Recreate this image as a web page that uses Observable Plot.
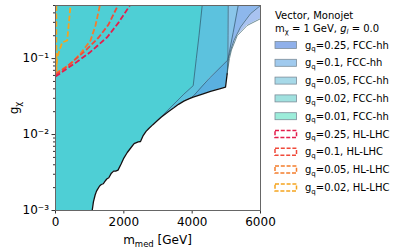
<!DOCTYPE html>
<html><head><meta charset="utf-8">
<script src="https://cdn.jsdelivr.net/npm/d3@7"></script>
<script src="https://cdn.jsdelivr.net/npm/@observablehq/plot@0.6"></script>
<style>
html,body{margin:0;padding:0;background:#fff;}
#chart{position:relative;width:407px;height:250px;overflow:hidden;}
svg{font-family:"DejaVu Sans",sans-serif;}
</style></head><body><div id="chart"></div>
<script>
// ---- axis ticks ----
const xTicks = [0, 2000, 4000, 6000];
const yTicks = [0.001, 0.01, 0.1];
const yTickLabels = ["10⁻³", "10⁻²", "10⁻¹"];

// ---- common lower exclusion edge (m_med [GeV], g_chi) ----
const lowerX = [1074,1110,1160,1200,1244,1290,1340,1400,1440,1500,1560,1635,1700,1760,1830,1920,2000,2100,2195,2300,2420,2488,2560,2650,2731,2850,2976,3100,3300,3463,3600,3756,3900,4030,4300,4537,4800,4976];
const lowerY = [0.001,0.0013,0.0016,0.0018,0.00194,0.0021,0.0022,0.00225,0.0024,0.0026,0.0027,0.0031,0.0033,0.0033,0.0034,0.0041,0.0049,0.0058,0.0066,0.0076,0.0080,0.0081,0.0096,0.0110,0.0120,0.0135,0.0152,0.0170,0.0200,0.0225,0.0250,0.0275,0.0295,0.031,0.034,0.037,0.040,0.042];

// ---- FCC-hh contours: where each leaves the lower edge, then its own upper part ----
const fcc001Leave = 2976;
const fcc001X = [3756,4030,4121,4200,4293];
const fcc001Y = [0.034,0.044,0.1,0.2,0.5];
const fcc002Leave = 3900;
const fcc002X = [4030,4500,5045,5050,5055];
const fcc002Y = [0.032,0.055,0.096,0.2,0.5];
const fcc005Leave = 4976;
const fcc005X = [5024,5050,5200,5347];
const fcc005Y = [0.063,0.1,0.22,0.5];
const fcc01Leave = 4976;
const fcc01X = [5024,5060,5130,5220,5415,5707,6000];
const fcc01Y = [0.063,0.1,0.13,0.173,0.26,0.39,0.5];
const fcc025Leave = 4976;
const fcc025X = [5024,5090,5150,5317,5610,6000,6000];
const fcc025Y = [0.063,0.1,0.13,0.2,0.273,0.335,0.5];

// darker wedge between the gq=0.02 edge and the lower edge
const wedgeX  = [4030,4300,4537,4800,4976,5024,5045];
const wedgeY1 = [0.031,0.034,0.037,0.040,0.042,0.063,0.096];
const wedgeY2 = [0.032,0.0436,0.055,0.074,0.089,0.094,0.096];

// ---- HL-LHC contours ----
const hl025X = [0,300,620,1000,1512,1850,2175];
const hl025Y = [0.058,0.072,0.09,0.12,0.191,0.3,0.5];
const hl01X = [0,280,560,900,1268,1550,1824];
const hl01Y = [0.061,0.075,0.096,0.13,0.191,0.28,0.5];
const hl005X = [0,146,440,732,1024,1171,1298];
const hl005Y = [0.064,0.070,0.0847,0.116,0.173,0.273,0.5];
const hl002X = [25,25,50,196,342,440];
const hl002Y = [0.5,0.07,0.104,0.163,0.173,0.5];

// ---- legend ----
const legendTitle1 = "Vector, Monojet";
const fccLabels = ["0.25","0.1","0.05","0.02","0.01"];
const hlLabels = ["0.25","0.1","0.05","0.02"];

// ---- styles ----
const fccFill = {"0.25":"#a9c3f1","0.1":"#8db7ec","0.05":"#8ac6ea","0.02":"#5cc2de","0.01":"#4ecfd5"};
const wedgeFill = "#5ab0e0";
const fccSwatch = {"0.25":"#8fb0ea","0.1":"#a0caee","0.05":"#a7d9e8","0.02":"#a0e1df","0.01":"#9cedda"};
const hlColor = {"0.25":"#e41d4c","0.1":"#f04a3a","0.05":"#f47d2c","0.02":"#f5a41e"};

const pts = (xs, ys) => xs.map((x, i) => ({x, y: ys[i]}));
function contour(leave, tx, ty) {
  const base = pts(lowerX, lowerY).filter(p => p.x <= leave);
  return base.concat(pts(tx, ty));
}
const c001 = contour(fcc001Leave, fcc001X, fcc001Y);
const c002 = contour(fcc002Leave, fcc002X, fcc002Y);
const c005 = contour(fcc005Leave, fcc005X, fcc005Y);
const c01  = contour(fcc01Leave, fcc01X, fcc01Y);
const c025 = contour(fcc025Leave, fcc025X, fcc025Y);
const wedge = wedgeX.map((x, i) => ({x, y1: wedgeY1[i], y2: wedgeY2[i]}));
const lowerLine = pts(lowerX, lowerY).concat([{x: fcc025X[0], y: fcc025Y[0]}]);

const minor = [];
for (const d of [0.001, 0.01, 0.1]) for (let k = 2; k <= 9; k++) { const v = d * k; if (v <= 0.5) minor.push(v); }

const edge = {stroke: "#2a5664", strokeWidth: 0.8, strokeOpacity: 0.85, curve: "linear", clip: true};
const dash = (xs, ys, c) => Plot.line(pts(xs, ys), {x: "x", y: "y", stroke: c, strokeWidth: 1.8, strokeDasharray: "5.5,2.4", strokeLinecap: "butt", clip: true});

const svgEl = Plot.plot({
  width: 407, height: 250,
  marginLeft: 55, marginRight: 147, marginTop: 5, marginBottom: 40,
  style: {fontFamily: "DejaVu Sans", fontSize: "12px", color: "#000", background: "#fff", overflow: "visible"},
  x: {domain: [0, 6000]},
  y: {type: "log", domain: [0.001, 0.5]},
  marks: [
    Plot.areaX(c025, {x1: 0, x2: "x", y: "y", fill: fccFill["0.25"], clip: true}),
    Plot.areaX(c01,  {x1: 0, x2: "x", y: "y", fill: fccFill["0.1"], clip: true}),
    Plot.areaX(c005, {x1: 0, x2: "x", y: "y", fill: fccFill["0.05"], clip: true}),
    Plot.areaY(wedge, {x: "x", y1: "y1", y2: "y2", fill: wedgeFill, clip: true}),
    Plot.areaX(c002, {x1: 0, x2: "x", y: "y", fill: fccFill["0.02"], clip: true}),
    Plot.areaX(c001, {x1: 0, x2: "x", y: "y", fill: fccFill["0.01"], clip: true}),
    Plot.line(c001.filter(p => p.x >= fcc001Leave), {x: "x", y: "y", ...edge}),
    Plot.line(c002.filter(p => p.x >= fcc002Leave), {x: "x", y: "y", ...edge}),
    Plot.line(pts(fcc005X, fcc005Y), {x: "x", y: "y", ...edge}),
    Plot.line(pts(fcc01X, fcc01Y), {x: "x", y: "y", ...edge}),
    Plot.line(pts(fcc025X, fcc025Y), {x: "x", y: "y", ...edge}),
    Plot.line(lowerLine, {x: "x", y: "y", stroke: "#111", strokeWidth: 1.3, clip: true}),
    dash(hl002X, hl002Y, hlColor["0.02"]),
    dash(hl005X, hl005Y, hlColor["0.05"]),
    dash(hl01X, hl01Y, hlColor["0.1"]),
    dash(hl025X, hl025Y, hlColor["0.25"]),
    Plot.axisX(xTicks, {tickSize: 3.5, tickPadding: 3, label: null, tickFormat: d => String(d), stroke: "#333"}),
    Plot.axisY(yTicks, {tickSize: 3.5, tickPadding: 3, label: null, tickFormat: d => yTickLabels[yTicks.indexOf(d)], stroke: "#333"}),
    Plot.axisY(minor, {tickSize: 2, label: null, tickFormat: () => "", stroke: "#333"}),
    Plot.frame({stroke: "#666", strokeWidth: 1})
  ]
});
document.getElementById("chart").appendChild(svgEl);

const svg = d3.select(svgEl);
// axis labels with subscripts
const xl = svg.append("text").attr("x", 157.5).attr("y", 244).attr("text-anchor", "middle").attr("font-size", 12).attr("fill", "#000");
xl.append("tspan").text("m");
xl.append("tspan").attr("font-size", 8.5).attr("dy", 3).text("med");
xl.append("tspan").attr("dy", -3).text(" [GeV]");
const yl = svg.append("text").attr("transform", "translate(18,108) rotate(-90)").attr("text-anchor", "middle").attr("font-size", 12).attr("fill", "#000");
yl.append("tspan").text("g");
yl.append("tspan").attr("font-size", 8.5).attr("dy", 3).text("χ");

// legend
const lg = svg.append("g").attr("font-size", 10).attr("fill", "#000").attr("text-anchor", "start");
lg.append("text").attr("x", 275).attr("y", 18.5).attr("text-anchor", "start").text(legendTitle1);
const t2 = lg.append("text").attr("x", 275).attr("y", 31.5).attr("text-anchor", "start");
t2.append("tspan").text("m");
t2.append("tspan").attr("font-size", 7).attr("dy", 2.5).text("χ");
t2.append("tspan").attr("dy", -2.5).text(" = 1 GeV, ");
t2.append("tspan").attr("font-style", "italic").text("g");
t2.append("tspan").attr("font-style", "italic").attr("font-size", 7).attr("dy", 2.5).text("l");
t2.append("tspan").attr("dy", -2.5).text(" = 0.0");
const rowY0 = 45, rowStep = 17.8;
function entryText(y, val, tag) {
  const t = lg.append("text").attr("x", 305).attr("y", y + 3.6).attr("text-anchor", "start");
  t.append("tspan").text("g");
  t.append("tspan").attr("font-size", 7).attr("dy", 2.5).text("q");
  t.append("tspan").attr("dy", -2.5).text("=" + val + ", " + tag);
}
fccLabels.forEach((v, i) => {
  const y = rowY0 + i * rowStep;
  lg.append("rect").attr("x", 275).attr("y", y - 3.5).attr("width", 21.5).attr("height", 7)
    .attr("fill", fccSwatch[v]).attr("stroke", "#7d8d99").attr("stroke-width", 0.8);
  entryText(y, v, "FCC-hh");
});
hlLabels.forEach((v, i) => {
  const y = rowY0 + (fccLabels.length + i) * rowStep;
  lg.append("rect").attr("x", 275).attr("y", y - 3.5).attr("width", 21.5).attr("height", 7)
    .attr("fill", "none").attr("stroke", hlColor[v]).attr("stroke-width", 1.5).attr("stroke-dasharray", "4,1.8");
  entryText(y, v, "HL-LHC");
});
</script></body></html>
